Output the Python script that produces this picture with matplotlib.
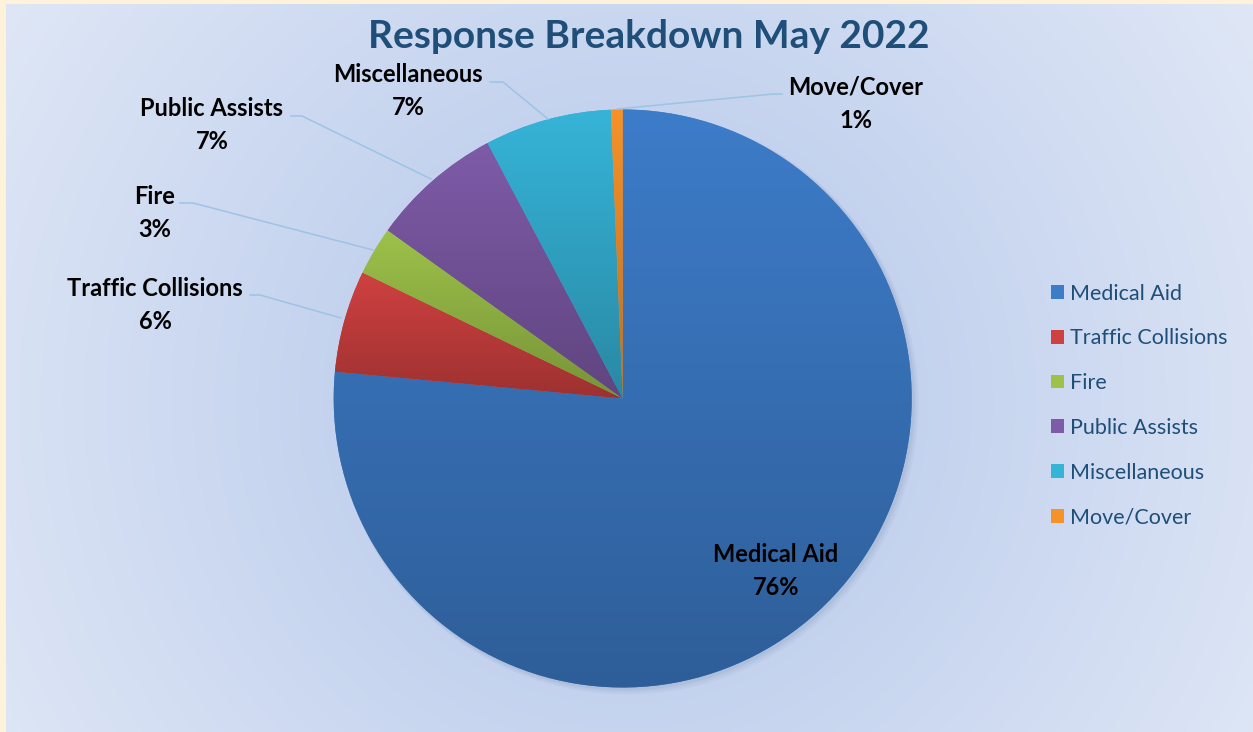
import numpy as np
import matplotlib.pyplot as plt
from matplotlib.patches import Circle
from matplotlib.colors import to_rgb

# --- data ---
categories = ['Medical Aid', 'Traffic Collisions', 'Fire', 'Public Assists', 'Miscellaneous', 'Move/Cover']
shares = [76.4, 5.69, 2.71, 7.36, 7.08, 0.66]
colours = ['#3D7CC9', '#CF4140', '#9DC24A', '#7E5BA8', '#36B4D8', '#F7922A']

W, H = 1253, 732
plt.rcParams['font.family'] = ['Lato', 'DejaVu Sans']

fig = plt.figure(figsize=(W / 100, H / 100), dpi=100)
fig.patch.set_facecolor('#FEF2DB')
ax = fig.add_axes([0, 0, 1, 1])


def py(y):
    # image row -> data y
    return H - y


# background panel with radial gradient
gx, gy = np.meshgrid(np.arange(W), np.arange(H))
d = np.sqrt((gx - 622) ** 2 + (gy - 400) ** 2) / 740.0
d = np.clip(d, 0, 1)[..., None]
c0 = np.array([178, 197, 233]) / 255.0
c1 = np.array([223, 231, 246]) / 255.0
bg = c0 + (c1 - c0) * d
ax.imshow(bg, extent=(6, W, 0, py(4)), origin='upper', zorder=0, aspect='auto')

# pie
cx, cy, R = 622.7, py(398.5), 289
for k, a in enumerate([0.05, 0.04, 0.03]):
    ax.add_patch(Circle((cx + 2 + k, cy - 2 - k), R + 1 + k, color='#203864', alpha=a, lw=0, zorder=1))

wedges, _ = ax.pie(shares, colors=colours, startangle=90, counterclock=False,
                   center=(cx, cy), radius=R, wedgeprops=dict(linewidth=0), frame=True)
ax.set_xlim(0, W)
ax.set_ylim(0, H)
ax.set_aspect('equal')
ax.axis('off')

# per-slice vertical shading like the office gradient
for w, col in zip(wedges, colours):
    w.set_zorder(2)
    v = w.get_path().vertices
    x0, x1 = v[:, 0].min(), v[:, 0].max()
    y0, y1 = v[:, 1].min(), v[:, 1].max()
    base = np.array(to_rgb(col))
    t = np.linspace(0, 1, 200)[:, None]
    grad = base * (1 - 0.24 * t)
    img = ax.imshow(grad[:, None, :], extent=(x0, x1, y0, y1), origin='upper',
                    aspect='auto', zorder=3)
    img.set_clip_path(w)

# data labels and leader lines
lead = '#9DC3E6'
lab_pos = {
    'Medical Aid': (776, 571),
    'Traffic Collisions': (155, 305),
    'Fire': (155, 213),
    'Public Assists': (212, 125),
    'Miscellaneous': (408, 91),
    'Move/Cover': (856, 104),
}
leaders = {
    'Traffic Collisions': [(250, 295), (260, 295), (341, 318)],
    'Fire': [(180, 203), (193, 203), (373, 250)],
    'Public Assists': [(291, 116), (302, 116), (431, 179)],
    'Miscellaneous': [(490, 82), (503, 82), (548, 119)],
    'Move/Cover': [(782, 94), (773, 94), (617, 109)],
}
for name, val in zip(categories, shares):
    x, y = lab_pos[name]
    ax.text(x, py(y), f'{name}\n{round(val)}%', ha='center', va='center',
            fontsize=17, fontweight='bold', color='black', linespacing=1.55, zorder=5)
    if name in leaders:
        pts = leaders[name]
        ax.plot([p[0] for p in pts], [py(p[1]) for p in pts], color=lead, lw=1.1, zorder=4)

# title
ax.text(649, py(37), 'Response Breakdown May 2022', ha='center', va='center',
        fontsize=28, fontweight='bold', color='#1F4E79', zorder=5)

# legend
leg = ax.legend(wedges, categories, loc='center left', bbox_to_anchor=(1051, py(405.5)),
                bbox_transform=ax.transData, frameon=False, fontsize=15.5,
                handlelength=0.6, handleheight=0.6, handletextpad=0.3,
                labelspacing=1.15, borderpad=0, borderaxespad=0, labelcolor='#1F4E79')

fig.savefig('out.png', dpi=100, facecolor=fig.get_facecolor())
